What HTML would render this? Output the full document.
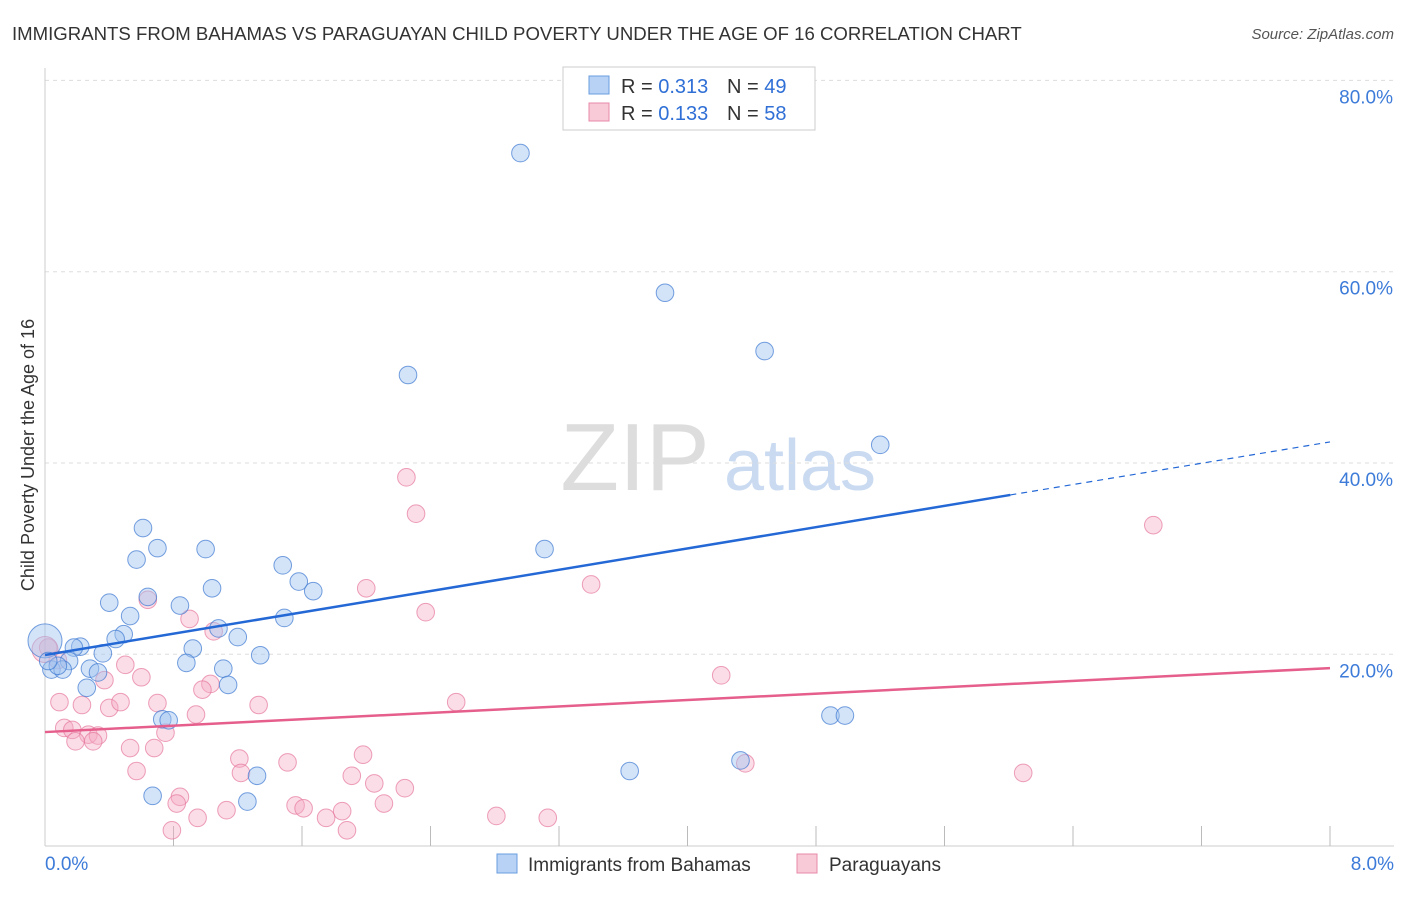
<!DOCTYPE html>
<html><head><meta charset="utf-8"><style>
body{margin:0;background:#fff;font-family:"Liberation Sans",sans-serif;}
svg text{font-family:"Liberation Sans",sans-serif;}
</style></head><body>
<svg id="chart" width="1406" height="892">
<text x="12" y="40" font-size="18.6" fill="#333">IMMIGRANTS FROM BAHAMAS VS PARAGUAYAN CHILD POVERTY UNDER THE AGE OF 16 CORRELATION CHART</text>
<text x="1394" y="39" font-size="15" fill="#555" text-anchor="end" font-style="italic">Source: ZipAtlas.com</text>
<text x="34" y="455" font-size="18" fill="#333" text-anchor="middle" transform="rotate(-90 34 455)">Child Poverty Under the Age of 16</text>
<g><text x="635" y="490" font-size="96" fill="#ddd" text-anchor="middle" font-family="Liberation Serif">ZIP</text><text x="800" y="490" font-size="72" fill="#c9daf1" text-anchor="middle">atlas</text></g>
<g id="grid"></g><g id="ticks"></g><g id="pts"></g><g id="lines"></g>
<g>
<rect x="563" y="67" width="252" height="63" fill="#fff" stroke="#ccc"/>
<rect x="589" y="76" width="20" height="18" fill="#b7d2f5" stroke="#6a9de0"/>
<rect x="589" y="103" width="20" height="18" fill="#f8c9d7" stroke="#e88aa8"/>
<text x="621" y="93" font-size="20" fill="#333">R = <tspan fill="#2f6fd6">0.313</tspan></text>
<text x="727" y="93" font-size="20" fill="#333">N = <tspan fill="#2f6fd6">49</tspan></text>
<text x="621" y="120" font-size="20" fill="#333">R = <tspan fill="#2f6fd6">0.133</tspan></text>
<text x="727" y="120" font-size="20" fill="#333">N = <tspan fill="#2f6fd6">58</tspan></text>
</g>
<g>
<rect x="497" y="854" width="20" height="19" fill="#b7d2f5" stroke="#6a9de0"/>
<text x="528" y="871" font-size="19" fill="#333">Immigrants from Bahamas</text>
<rect x="797" y="854" width="20" height="19" fill="#f8c9d7" stroke="#e88aa8"/>
<text x="829" y="871" font-size="19" fill="#333">Paraguayans</text>
</g>
</svg>
<script>
const xTicks=[0,0.8,1.6,2.4,3.2,4,4.8,5.6,6.4,7.2,8];
const yTicks=[20,40,60,80];
const yTickLabels=["20.0%","40.0%","60.0%","80.0%"];
const xTickLabels=["0.0%","8.0%"];
const bahamasXpct=[2.96,3.86,4.48,2.26,5.20,3.11,0.61,0.70,0.57,1.00,1.48,1.58,1.67,1.04,0.64,0.40,0.84,0.53,1.49,1.08,0.49,0.44,1.20,0.22,0.18,0.36,0.92,1.34,0.15,0.88,0.28,1.11,0.33,0.04,0.11,0.26,1.14,0.73,0.77,4.89,4.98,4.33,3.64,1.32,0.67,1.26,0.0,0.08,0.02];
const bahamasY=[72.4,57.8,51.7,49.2,41.9,31.0,33.2,31.1,29.9,31.0,29.3,27.6,26.6,26.9,26.0,25.4,25.1,24.0,23.8,22.7,22.1,21.6,21.8,20.8,20.7,20.1,20.6,19.9,19.3,19.1,18.5,18.5,18.1,18.4,18.4,16.5,16.8,13.2,13.1,13.6,13.6,8.9,7.8,7.3,5.2,4.6,21.4,18.8,19.3];
const paraX=[2.25,2.31,6.90,2.00,3.40,0.64,2.37,0.90,1.05,0.02,0.08,0.50,0.37,0.60,4.21,1.03,0.98,1.33,2.56,0.70,0.09,0.23,0.40,0.47,0.94,0.75,0.12,0.17,0.27,0.19,0.33,0.30,0.53,0.68,1.21,1.98,1.51,0.57,1.22,1.91,4.36,6.09,2.05,2.24,0.84,0.82,2.11,1.56,1.61,1.13,1.85,0.95,1.75,2.81,3.13,0.79,1.88,0.0];
const paraY=[38.5,34.7,33.5,26.9,27.3,25.7,24.4,23.7,22.4,20.7,19.4,18.9,17.3,17.6,17.8,16.9,16.3,14.7,15.0,14.9,15.0,14.7,14.4,15.0,13.7,11.8,12.3,12.1,11.6,10.9,11.5,10.9,10.2,10.2,9.1,9.5,8.7,7.8,7.6,7.3,8.6,7.6,6.5,6.0,5.1,4.4,4.4,4.2,3.9,3.7,3.6,2.9,2.9,3.1,2.9,1.6,1.6,20.5];
const bahamasTrend=[19.93,42.2];
const paraTrend=[11.87,18.56];
const solidEnd=6.01;
const X=v=>45+v/8*1285, Y=v=>845.6-v*9.565;
const NS="http://www.w3.org/2000/svg";
function mk(t,a,p){const e=document.createElementNS(NS,t);for(const k in a)e.setAttribute(k,a[k]);p.appendChild(e);return e;}
const grid=document.getElementById('grid'),ticks=document.getElementById('ticks'),pts=document.getElementById('pts'),lines=document.getElementById('lines');
mk('line',{x1:45,y1:68,x2:45,y2:846,stroke:'#ccc'},ticks);
mk('line',{x1:45,y1:846,x2:1394,y2:846,stroke:'#ccc'},ticks);
yTicks.forEach((v,i)=>{
 const g=mk('line',{x1:45,y1:Y(v),x2:1394,y2:Y(v),stroke:'#ddd','stroke-dasharray':'4,4'},grid);
 
 
 const t=mk('text',{x:1393,y:Y(v)+23,'font-size':19,fill:'#3d7bd9','text-anchor':'end'},ticks);t.textContent=yTickLabels[i];
 
 
});
xTicks.forEach((v,i)=>{if(i==0)return;mk('line',{x1:X(v),y1:826,x2:X(v),y2:846,stroke:'#bbb'},ticks);});
[[0,"start",45],[8,"end",1394]].forEach((d,i)=>{const t=mk('text',{x:d[2],y:870,'font-size':19,fill:'#3d7bd9','text-anchor':d[1]},ticks);t.textContent=xTickLabels[i];
 
 });
paraX.forEach((v,i)=>{const c=mk('circle',{cx:X(v),cy:Y(paraY[i]),r:i==paraX.length-1?13:8.8,fill:'rgba(245,170,195,0.4)',stroke:'rgba(230,120,155,0.7)','stroke-width':1},pts);
 
 });
bahamasXpct.forEach((v,i)=>{const c=mk('circle',{cx:X(v),cy:Y(bahamasY[i]),r:i==46?17:8.8,fill:'rgba(160,195,240,0.45)',stroke:'rgba(60,120,210,0.7)','stroke-width':1},pts);
 
 });
const by=v=>bahamasTrend[0]+(bahamasTrend[1]-bahamasTrend[0])*v/8;
let l=mk('line',{x1:X(0),y1:Y(by(0)),x2:X(solidEnd),y2:Y(by(solidEnd)),stroke:'#2468d6','stroke-width':2.5},lines);


l=mk('line',{x1:X(solidEnd),y1:Y(by(solidEnd)),x2:X(8),y2:Y(by(8)),stroke:'#2468d6','stroke-width':1.2,'stroke-dasharray':'6,5'},lines);


l=mk('line',{x1:X(0),y1:Y(paraTrend[0]),x2:X(8),y2:Y(paraTrend[1]),stroke:'#e55e8c','stroke-width':2.5},lines);


</script>
</body></html>
